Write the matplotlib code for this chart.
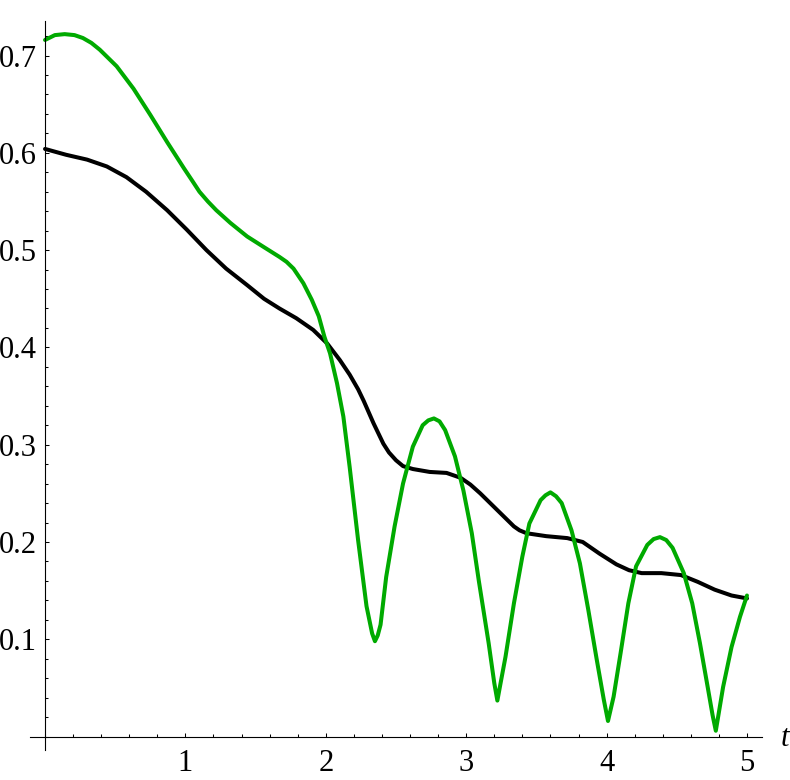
import matplotlib
matplotlib.use("Agg")
import matplotlib.pyplot as plt
from matplotlib.ticker import MultipleLocator

# values
t_green = [0, 0.07, 0.14, 0.21, 0.27, 0.33, 0.39, 0.51, 0.63, 0.75, 0.87, 0.99,
           1.05, 1.10, 1.16, 1.22, 1.32, 1.44, 1.56, 1.67, 1.72, 1.77, 1.84,
           1.90, 1.95, 1.99, 2.03, 2.08, 2.125, 2.17, 2.23, 2.29, 2.33, 2.35,
           2.37, 2.39, 2.43, 2.49, 2.55, 2.62, 2.69, 2.73, 2.77, 2.81, 2.85,
           2.92, 2.98, 3.04, 3.09, 3.16, 3.20, 3.222, 3.245, 3.28, 3.34, 3.40,
           3.45, 3.53, 3.565, 3.60, 3.64, 3.68, 3.75, 3.81, 3.87, 3.93, 3.98,
           4.01, 4.05, 4.10, 4.155, 4.21, 4.29, 4.335, 4.38, 4.425, 4.47, 4.55,
           4.61, 4.665, 4.72, 4.755, 4.778, 4.80, 4.83, 4.89, 4.95, 5.0]
y_green = [0.716, 0.721, 0.722, 0.721, 0.718, 0.713, 0.706, 0.689, 0.666, 0.639,
           0.611, 0.584, 0.571, 0.560, 0.550, 0.541, 0.528, 0.514, 0.503, 0.493,
           0.488, 0.481, 0.466, 0.449, 0.432, 0.411, 0.394, 0.363, 0.329, 0.277,
           0.202, 0.134, 0.106, 0.098, 0.104, 0.115, 0.164, 0.216, 0.260, 0.298,
           0.320, 0.325, 0.327, 0.324, 0.315, 0.288, 0.253, 0.209, 0.160, 0.096,
           0.055, 0.037, 0.055, 0.082, 0.137, 0.185, 0.219, 0.243, 0.248, 0.251,
           0.247, 0.240, 0.212, 0.178, 0.130, 0.079, 0.038, 0.016, 0.041, 0.086,
           0.137, 0.175, 0.197, 0.203, 0.205, 0.202, 0.194, 0.168, 0.137, 0.096,
           0.051, 0.022, 0.006, 0.025, 0.051, 0.092, 0.123, 0.145]

t_black = [0, 0.15, 0.30, 0.44, 0.58, 0.72, 0.87, 1.01, 1.15, 1.29, 1.44, 1.56,
           1.67, 1.79, 1.91, 2.01, 2.10, 2.17, 2.23, 2.27, 2.34, 2.41, 2.45,
           2.50, 2.55, 2.62, 2.74, 2.86, 2.96, 3.03, 3.10, 3.22, 3.34, 3.38,
           3.43, 3.57, 3.72, 3.83, 3.95, 4.07, 4.16, 4.25, 4.39, 4.53, 4.65,
           4.77, 4.89, 5.0]
y_black = [0.604, 0.598, 0.593, 0.586, 0.575, 0.560, 0.541, 0.521, 0.500, 0.481,
           0.464, 0.450, 0.440, 0.430, 0.418, 0.404, 0.387, 0.372, 0.357, 0.345,
           0.322, 0.301, 0.292, 0.284, 0.278, 0.275, 0.272, 0.271, 0.266, 0.259,
           0.250, 0.233, 0.216, 0.212, 0.209, 0.206, 0.204, 0.200, 0.188, 0.177,
           0.171, 0.168, 0.168, 0.166, 0.159, 0.151, 0.145, 0.142]

x_ticks = [1, 2, 3, 4, 5]
x_labels = ["1", "2", "3", "4", "5"]
y_ticks = [0.1, 0.2, 0.3, 0.4, 0.5, 0.6, 0.7]
y_labels = ["0.1", "0.2", "0.3", "0.4", "0.5", "0.6", "0.7"]

plt.rcParams["font.family"] = ["Liberation Serif", "DejaVu Serif"]

fig = plt.figure(figsize=(7.9, 7.8), dpi=100)
ax = fig.add_axes([30 / 790, 30 / 780, 732 / 790, 729 / 780])

ax.plot(t_black, y_black, color="black", lw=2.9, solid_joinstyle="round",
        solid_capstyle="round")
ax.plot(t_green, y_green, color="#00aa00", lw=2.9, solid_joinstyle="round",
        solid_capstyle="round")

ax.set_xlim(-0.107, 5.107)
ax.set_ylim(-0.0138, 0.7355)

# axes crossing at the origin
ax.spines["left"].set_position(("data", 0))
ax.spines["bottom"].set_position(("data", 0))
ax.spines["top"].set_visible(False)
ax.spines["right"].set_visible(False)
ax.spines["left"].set_linewidth(0.8)
ax.spines["bottom"].set_linewidth(0.8)

ax.set_xticks(x_ticks, x_labels)
ax.set_yticks(y_ticks, y_labels)
ax.xaxis.set_minor_locator(MultipleLocator(0.2))
ax.yaxis.set_minor_locator(MultipleLocator(0.02))
ax.tick_params(which="both", direction="in", width=0.75, labelsize=22)
ax.tick_params(axis="x", pad=9)
ax.tick_params(axis="y", pad=6)
ax.tick_params(which="major", length=3)
ax.tick_params(which="minor", length=2)

ax.text(5.27, -0.002, "t", fontsize=22, style="italic", ha="center",
        va="center", clip_on=False)

fig.savefig("out.png", dpi=100)
